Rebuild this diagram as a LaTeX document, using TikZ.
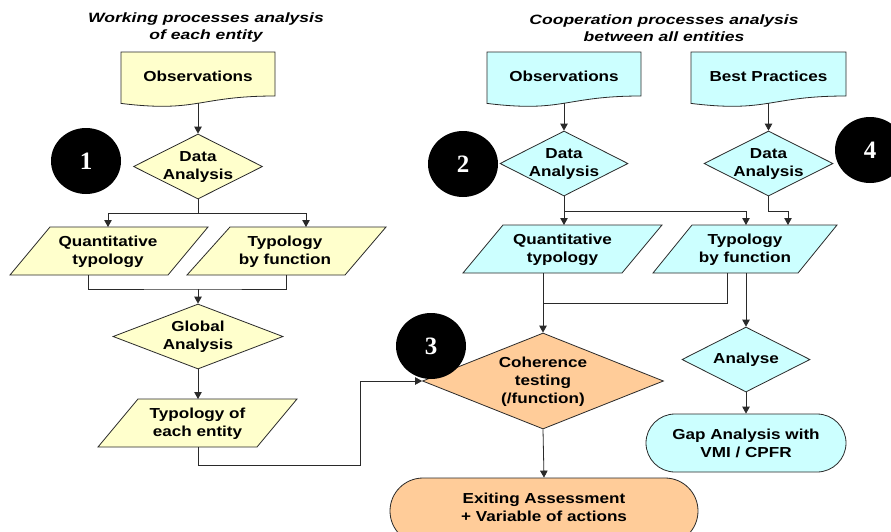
\documentclass[tikz,border=0pt]{standalone}
\usepackage{fontspec}
\newfontfamily\lblfont{Liberation Sans}[FakeStretch=1.18]
\newfontfamily\ttlfont{Liberation Sans}[FakeStretch=1.3]
\newfontfamily\numfont{Liberation Serif}
\usetikzlibrary{shapes.geometric, arrows.meta}
\definecolor{yel}{HTML}{FFFFCC}
\definecolor{cya}{HTML}{CCFFFF}
\definecolor{ora}{HTML}{FFCC99}
\definecolor{ln}{HTML}{2A2A2A}
\begin{document}
\begin{tikzpicture}[x=1pt,y=-1pt,
 shp/.style={draw=ln, line width=0.8pt},
 lbl/.style={font=\lblfont\bfseries\fontsize{14.5}{18}\selectfont, align=center, inner sep=0pt},
 ttl/.style={font=\ttlfont\bfseries\itshape\fontsize{13.5}{17}\selectfont, align=center, inner sep=0pt},
 arr/.style={draw=ln, line width=0.8pt, -{Triangle[length=7pt,width=7.5pt]}},
 con/.style={draw=ln, line width=0.8pt},
 dia/.style={diamond, shp, inner sep=0pt},
 numc/.style={ellipse, fill=black, minimum width=70pt, minimum height=66pt, inner sep=0pt, text=white, font=\numfont\bfseries\fontsize{25}{25}\selectfont},
]
\useasboundingbox (0,0) rectangle (891,531);
\fill[white] (0,0) rectangle (891,531);
\clip (0,0) rectangle (891,531);

% titles
\node[ttl] (t1) at (206,28) {Working processes analysis\\of each entity};
\node[ttl] (t2) at (664,28) {Cooperation processes analysis\\between all entities};

% ---------- left column ----------
\draw[shp, fill=yel] (121,52) -- (275,52) -- (275,96) .. controls (198,96) and (198,112.9) .. (121,103.4) -- cycle;
\node[lbl] (obs1) at (198,76) {Observations};
\coordinate (obs1b) at (198,103.3);

\node[dia, fill=yel, minimum width=129pt, minimum height=65pt] (da1) at (198,166.5) {};
\node[lbl] (da1t) at (198,167) {Data\\Analysis};

\draw[shp, fill=yel] (50,227) -- (208,227) -- (168,275) -- (10,275) -- cycle;
\node[lbl] (qt1) at (108,252) {Quantitative\\typology};
\coordinate (qt1t) at (108,227);
\coordinate (qt1b) at (88,275);

\draw[shp, fill=yel] (230,227) -- (386,227) -- (345,275) -- (187,275) -- cycle;
\node[lbl] (tf1) at (285,252) {Typology\\by function};
\coordinate (tf1t) at (306,227);
\coordinate (tf1b) at (286,275);

\node[dia, fill=yel, minimum width=170pt, minimum height=65pt] (gl1) at (198,336.5) {};
\node[lbl] (gl1t) at (198,337) {Global\\Analysis};
\coordinate (gl1j) at (198,289);

\draw[shp, fill=yel] (138,399) -- (297,399) -- (257,447) -- (98,447) -- cycle;
\node[lbl] (te1) at (197.5,424) {Typology of\\each entity};
\coordinate (te1t) at (198,399);
\coordinate (te1b) at (198,447);

% ---------- right column ----------
\draw[shp, fill=cya] (487,52) -- (641,52) -- (641,96) .. controls (564,96) and (564,112.9) .. (487,103.4) -- cycle;
\node[lbl] (obs2) at (564,76) {Observations};
\coordinate (obs2b) at (564,103.3);

\draw[shp, fill=cya] (691,52) -- (846,52) -- (846,96) .. controls (768.5,96) and (768.5,112.9) .. (691,103.4) -- cycle;
\node[lbl] (bp) at (768.5,76) {Best Practices};
\coordinate (bpb) at (768.5,103.3);

\node[dia, fill=cya, minimum width=128pt, minimum height=65pt] (da2) at (564,163.5) {};
\node[lbl] (da2t) at (564,164) {Data\\Analysis};

\node[dia, fill=cya, minimum width=129pt, minimum height=65pt] (da4) at (768.5,163.5) {};
\node[lbl] (da4t) at (768.5,164) {Data\\Analysis};

\draw[shp, fill=cya] (503,225) -- (662,225) -- (622,273) -- (463,273) -- cycle;
\node[lbl] (qt2) at (562.5,250) {Quantitative\\typology};
\coordinate (qt2t) at (564,225);
\coordinate (qt2b) at (543,273);

\draw[shp, fill=cya] (692,225) -- (837,225) -- (798,273) -- (653,273) -- cycle;
\node[lbl] (tf2) at (745,250) {Typology\\by function};
\coordinate (tf2t) at (746,225);
\coordinate (tf2t2) at (788,225);
\coordinate (tf2b) at (727,273);
\coordinate (tf2b2) at (746,273);
\coordinate (cohj) at (543,303);

\node[dia, fill=ora, minimum width=241pt, minimum height=96pt] (coh) at (543,381) {};
\node[lbl] (coht) at (543,382) {Coherence\\testing\\(/function)};

\node[dia, fill=cya, minimum width=128pt, minimum height=65pt] (an) at (746,359.5) {};
\node[lbl] (ant) at (746,360) {Analyse};

\node[shp, fill=cya, rounded corners=29pt, minimum width=200pt, minimum height=58pt] (gap) at (746,443) {};
\node[lbl] (gapt) at (746,443) {Gap Analysis with\\VMI / CPFR};

\node[shp, fill=ora, rounded corners=33pt, minimum width=308pt, minimum height=66pt] (ex) at (544,511) {};
\node[lbl] (ext) at (544,507) {Exiting Assessment\\+ Variable of actions};

% ---------- connectors ----------
\draw[arr] (obs1b) -- (da1.north);
\draw[arr] (da1.south) -- ++(0,14) -| (qt1t);
\draw[arr] (da1.south) -- ++(0,14) -| (tf1t);
\draw[con] (qt1b) |- (gl1j) -| (tf1b);
\draw[arr] (gl1j) -- (gl1.north);
\draw[arr] (gl1.south) -- (te1t);
\draw[arr] (te1b) -- ++(0,18) -- ++(162,0) |- (coh.west);

\draw[arr] (obs2b) -- (da2.north);
\draw[arr] (bpb) -- (da4.north);
\draw[arr] (da2.south) -- (qt2t);
\draw[arr] (da2.south) -- ++(0,15) -| (tf2t);
\draw[arr] (da4.south) -- ++(0,15) -| (tf2t2);
\draw[con] (tf2b) |- (cohj);
\draw[arr] (qt2b) -- (coh.north);
\draw[arr] (tf2b2) -- (an.north);
\draw[arr] (an.south) -- (gap.north);
\draw[arr] (coh.south) -- (ex.north);

% ---------- numbered circles ----------
\node[numc] (n1) at (86,161) {1};
\node[numc] (n2) at (463,164) {2};
\node[numc] (n3) at (431,346) {3};
\node[numc] (n4) at (870,150) {4};
\end{tikzpicture}
\end{document}
